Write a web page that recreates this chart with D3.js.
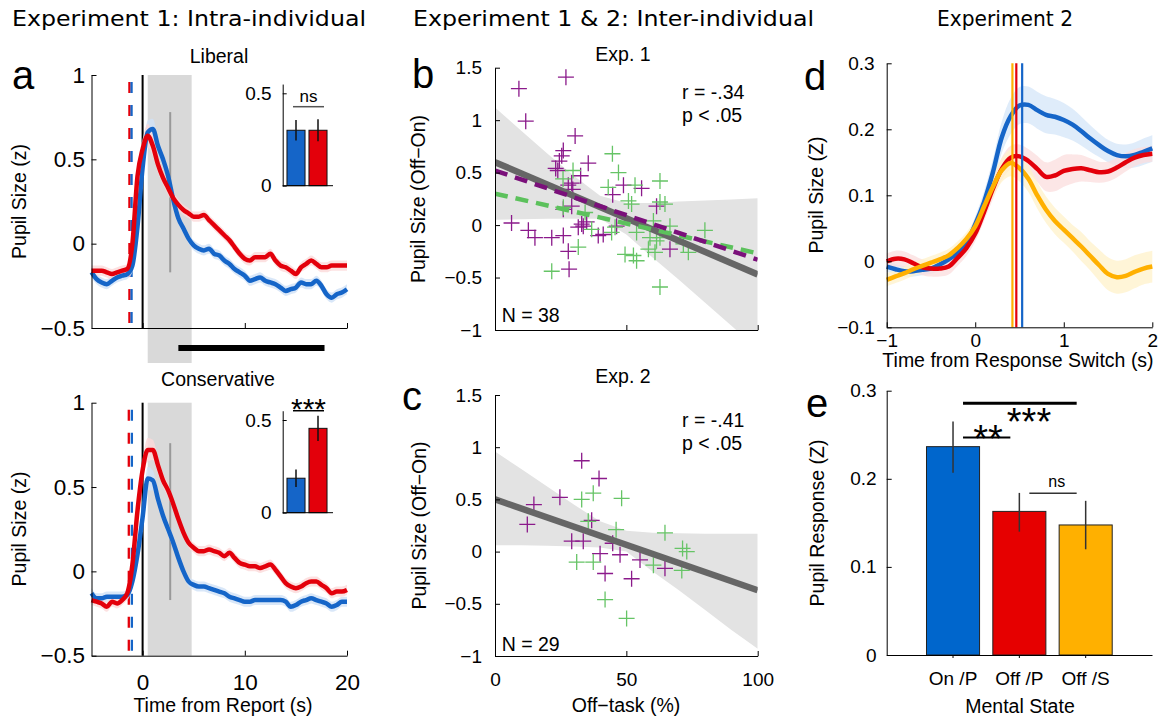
<!DOCTYPE html>
<html><head><meta charset="utf-8">
<script src="https://cdn.jsdelivr.net/npm/d3@7"></script>
<style>
body{margin:0;background:#fff;}
svg{display:block;}
</style></head><body>
<svg id="fig" width="1163" height="717"></svg>
<script>
// ---------------- DATA ----------------
// Panel a: pupil time courses (z) vs time from report (s)
const timeA = [-5,-4.5,-4,-3.5,-3,-2.5,-2,-1.5,-1,-0.5,0,0.5,1,1.5,2,2.5,3,3.5,4,4.5,5,5.5,6,6.5,7,7.5,8,8.5,9,9.5,10,10.5,11,11.5,12,12.5,13,13.5,14,14.5,15,15.5,16,16.5,17,17.5,18,18.5,19,19.5,20];
const libBlue = [-0.17,-0.21,-0.23,-0.24,-0.22,-0.20,-0.19,-0.18,-0.13,0.10,
  0.45,0.66,0.68,0.58,0.50,0.40,0.26,0.15,0.09,0.03,
  -0.01,-0.03,-0.04,-0.03,-0.06,-0.07,-0.10,-0.12,-0.15,-0.17,
  -0.19,-0.22,-0.21,-0.20,-0.22,-0.23,-0.24,-0.26,-0.28,-0.27,
  -0.26,-0.23,-0.24,-0.24,-0.22,-0.25,-0.30,-0.32,-0.30,-0.29,-0.27];
const libRed = [-0.16,-0.16,-0.16,-0.17,-0.18,-0.17,-0.16,-0.15,0.00,0.40,
  0.56,0.64,0.58,0.47,0.39,0.33,0.27,0.23,0.20,0.18,
  0.16,0.16,0.17,0.14,0.11,0.08,0.05,0.02,-0.02,-0.06,
  -0.09,-0.10,-0.08,-0.08,-0.08,-0.06,-0.10,-0.13,-0.14,-0.16,
  -0.18,-0.14,-0.12,-0.10,-0.12,-0.14,-0.14,-0.13,-0.13,-0.13,-0.13];
const consBlue = [-0.13,-0.16,-0.16,-0.15,-0.15,-0.15,-0.15,-0.14,-0.06,0.10,
  0.32,0.55,0.54,0.43,0.33,0.25,0.17,0.08,0.00,-0.06,
  -0.08,-0.09,-0.09,-0.10,-0.11,-0.12,-0.13,-0.15,-0.16,-0.17,
  -0.18,-0.18,-0.17,-0.17,-0.17,-0.17,-0.17,-0.17,-0.18,-0.21,
  -0.20,-0.18,-0.17,-0.16,-0.17,-0.18,-0.19,-0.21,-0.20,-0.18,-0.18];
const consRed = [-0.17,-0.18,-0.19,-0.21,-0.18,-0.19,-0.17,-0.13,0.04,0.36,
  0.60,0.72,0.72,0.63,0.54,0.48,0.40,0.31,0.23,0.17,
  0.14,0.12,0.12,0.13,0.12,0.11,0.09,0.11,0.08,0.05,
  0.04,0.03,0.03,0.02,0.03,0.04,0.01,-0.03,-0.07,-0.09,
  -0.10,-0.09,-0.07,-0.06,-0.06,-0.08,-0.10,-0.13,-0.12,-0.12,-0.11];
const semA = [0.03,0.03,0.03,0.03,0.03,0.03,0.03,0.03,0.04,0.05,
  0.06,0.07,0.06,0.05,0.04,0.04,0.035,0.035,0.03,0.03,
  0.03,0.03,0.03,0.03,0.03,0.03,0.03,0.03,0.03,0.03,
  0.03,0.03,0.03,0.03,0.03,0.03,0.03,0.03,0.03,0.03,
  0.03,0.03,0.03,0.03,0.03,0.03,0.03,0.03,0.03,0.03,0.03];
const rtLib = {red: -1.29, blue: -1.08};
const rtCons = {red: -1.35, blue: -1.05};
const windowA = [0.5, 4.8];
const markA = 2.7;
const markRangeLib = [-0.17, 0.78];
const markRangeCons = [-0.17, 0.76];
const sigBarA = [3.5, 17.8];
const insetCats = ["Off", "On"];
const insetLib = [0.30, 0.30];
const insetLibErr = [0.055, 0.06];
const insetCons = [0.186, 0.455];
const insetConsErr = [0.047, 0.068];
const ticksA_y = [-0.5, 0, 0.5, 1];
const ticksA_x = [0, 10, 20];

// Panel b (Exp. 1) scatter: off-task (%) vs pupil size (Off-On)
const b_purpleX = [27.0,9.1,11.7,30.5,26.0,25.4,24.5,35.5,23.1,23.9,32.6,29.2,27.9,29.6,48.9,55.8,44.8,61.5,29.2,26.0,6.3,12.7,15.2,21.6,26.0,31.7,33.0,33.6,34.9,39.3,41.2,46.3,27.9,28.2,66.6];
const b_purpleY = [1.41,1.30,0.99,0.85,0.71,0.66,0.61,0.59,0.54,0.52,0.47,0.40,0.38,0.34,0.38,0.35,0.29,0.18,0.18,0.15,0.02,-0.05,-0.12,-0.12,-0.10,-0.02,0.01,-0.01,0.03,-0.10,-0.09,-0.01,-0.25,-0.42,-0.23];
const b_greenX = [44.7,47.0,62.8,43.1,53.3,50.8,52.0,62.8,64.7,26.0,34.3,45.7,44.4,36.8,53.9,60.3,66.6,79.9,59.0,62.8,61.5,73.6,49.5,52.7,53.9,58.4,60.9,31.7,62.8,21.6,29.7,25.9,71.7];
const b_greenY = [0.68,0.50,0.42,0.36,0.38,0.23,0.20,0.22,0.20,0.17,0.12,-0.02,-0.07,-0.04,-0.07,0.04,-0.01,-0.05,-0.12,-0.12,-0.15,-0.26,-0.28,-0.29,-0.34,-0.23,-0.26,-0.21,-0.59,-0.44,0.52,0.44,-0.18];
const fitX = [0, 100];
const b_fitAll = [0.60, -0.47];
const b_fitPurple = [0.52, -0.33];
const b_fitGreen = [0.30, -0.27];
const ciX = [0,10,20,30,40,50,60,70,80,90,100];
const b_ciHi = [1.12,0.90,0.68,0.47,0.28,0.21,0.21,0.225,0.235,0.245,0.255];
const b_ciLo = [0.05,0.055,0.06,0.06,0.06,-0.09,-0.31,-0.52,-0.74,-0.96,-1.18];

// Panel c (Exp. 2)
const c_purpleX = [33.0,39.6,24.7,14.8,12.3,36.8,29.2,33.6,40.0,47.6,55.2,64.7,41.9,52.0,44.8];
const c_purpleY = [0.87,0.70,0.52,0.45,0.26,0.30,0.10,0.10,-0.02,-0.03,-0.08,-0.16,-0.21,-0.26,0.08];
const c_greenX = [33.0,37.4,48.2,35.5,46.1,64.7,71.4,73.0,31.1,37.4,60.3,71.1,41.9,50.1];
const c_greenY = [0.50,0.56,0.51,0.29,0.21,0.18,0.03,0.00,-0.10,-0.10,-0.13,-0.18,-0.46,-0.64];
const c_fitAll = [0.50, -0.37];
const c_ciHi = [0.96,0.79,0.62,0.45,0.29,0.20,0.18,0.175,0.17,0.17,0.17];
const c_ciLo = [0.06,0.06,0.055,0.05,0.04,0.0,-0.19,-0.37,-0.56,-0.75,-0.93];
const ticksBC_y = [-1,-0.5,0,0.5,1,1.5];
const ticksBC_x = [0,50,100];

// Panel d: pupil (Z) vs time from response switch (s)
const timeD = [-1,-0.9,-0.8,-0.7,-0.6,-0.5,-0.4,-0.3,-0.2,-0.1,0,0.1,0.2,0.3,0.4,0.5,0.6,0.7,0.8,0.9,1,1.1,1.2,1.3,1.4,1.5,1.6,1.7,1.8,1.9,2];
const dOnP = [-0.008,-0.012,-0.015,-0.015,-0.013,-0.011,-0.005,0.003,0.013,0.028,
  0.056,0.09,0.135,0.188,0.22,0.236,0.237,0.229,0.222,0.219,
  0.214,0.207,0.197,0.186,0.176,0.167,0.161,0.159,0.161,0.166,0.171];
const dOffP = [0.0,0.004,0.003,-0.003,-0.009,-0.011,-0.011,-0.008,0.005,0.02,
  0.042,0.075,0.11,0.14,0.157,0.159,0.152,0.14,0.128,0.13,
  0.137,0.14,0.141,0.138,0.135,0.136,0.142,0.15,0.157,0.161,0.163];
const dOffS = [-0.028,-0.023,-0.018,-0.012,-0.007,-0.002,0.003,0.009,0.02,0.034,
  0.053,0.083,0.113,0.138,0.149,0.141,0.125,0.1,0.078,0.061,
  0.048,0.035,0.022,0.008,-0.006,-0.019,-0.024,-0.022,-0.016,-0.011,-0.008];
const seOnP = [0.008,0.008,0.008,0.008,0.008,0.008,0.008,0.008,0.008,0.009,
  0.012,0.016,0.02,0.024,0.027,0.028,0.028,0.028,0.028,0.027,
  0.026,0.024,0.022,0.02,0.018,0.017,0.017,0.018,0.019,0.02,0.02];
const seOffP = [0.012,0.012,0.012,0.012,0.012,0.012,0.012,0.012,0.012,0.012,
  0.012,0.014,0.016,0.017,0.018,0.018,0.018,0.02,0.022,0.024,
  0.024,0.022,0.02,0.018,0.016,0.015,0.015,0.014,0.013,0.012,0.012];
const seOffS = [0.01,0.01,0.01,0.01,0.01,0.01,0.01,0.01,0.01,0.01,
  0.012,0.014,0.016,0.018,0.02,0.02,0.02,0.02,0.02,0.02,
  0.02,0.02,0.022,0.022,0.024,0.025,0.025,0.025,0.025,0.024,0.024];
const peakD = {OffS: 0.42, OffP: 0.464, OnP: 0.53};
const ticksD_y = [-0.1,0,0.1,0.2,0.3];
const ticksD_x = [-1,0,1,2];

// Panel e: pupil response per mental state
const stateCats = ["On /P", "Off /P", "Off /S"];
const stateVals = [0.2365, 0.163, 0.1476];
const stateErrLo = [0.207, 0.140, 0.120];
const stateErrHi = [0.265, 0.184, 0.175];
const ticksE_y = [0, 0.1, 0.2, 0.3];
const sigE = [
  {a: 0, b: 2, y: 0.2857, label: "***"},
  {a: 0, b: 1, y: 0.247, label: "**"},
  {a: 1, b: 2, y: 0.1835, label: "ns"}
];

// ---------------- STYLE ----------------
const FONT = '"Liberation Sans", Arial, Helvetica, sans-serif';
const TICK = 19, TICK_A = 22.5, LAB = 19.5;
const BLUE = "#1565c8", RED = "#e3000b", YEL = "#ffb000";
const BLUE_E = "#0066cc", RED_E = "#e60000", YEL_E = "#ffb000";
const PURPLE = "#8b1a8b", GREEN = "#66c466";

const svg = d3.select("#fig");
svg.append("rect").attr("width",1163).attr("height",717).attr("fill","#fff");

const fmt = d3.format("~g");
function styleAxis(g, fs){
  g.attr("font-family", FONT).attr("font-size", fs);
  g.selectAll(".domain").attr("stroke","#000").attr("stroke-width",1);
  g.selectAll(".tick line").attr("stroke","#000").attr("stroke-width",1);
  g.selectAll(".tick text").attr("fill","#000");
}
function txt(x, y, s, opt={}){
  const t = svg.append("text").attr("x",x).attr("y",y).text(s)
    .attr("font-family", opt.family || FONT).attr("font-size", opt.size || LAB)
    .attr("text-anchor", opt.anchor || "middle").attr("fill", opt.fill || "#000");
  if (opt.len) t.attr("textLength", opt.len).attr("lengthAdjust","spacingAndGlyphs");
  return t;
}
function vtxt(x, y, s, size){
  return svg.append("text").attr("transform",`translate(${x},${y}) rotate(-90)`)
    .attr("text-anchor","middle").attr("font-family",FONT).attr("font-size",size||LAB).text(s);
}

// ---------------- TITLES ----------------
txt(12, 26, "Experiment 1: Intra-individual", {family:'"DejaVu Sans", sans-serif', size:21, anchor:"start", len:354});
txt(413, 26, "Experiment 1 & 2: Inter-individual", {family:'"DejaVu Sans", sans-serif', size:21, anchor:"start", len:401});
txt(937, 26, "Experiment 2", {family:'"DejaVu Sans", sans-serif', size:21, anchor:"start", len:136});

// ---------------- PANEL A ----------------
const xA = d3.scaleLinear().domain([-5,20]).range([91.5,347]);
function drawA(y, blue, red, rt, markRange, grayTop, grayBot, xLabels){
  const g = svg.append("g");
  g.append("rect").attr("x", xA(windowA[0])).attr("width", xA(windowA[1]) - xA(windowA[0]))
    .attr("y", grayTop).attr("height", grayBot - grayTop).attr("fill", "#d9d9d9");
  [["red", RED], ["blue", BLUE]].forEach(([k, col]) => {
    g.append("line").attr("x1", xA(rt[k])).attr("x2", xA(rt[k]))
      .attr("y1", y(1) + 7).attr("y2", y(-0.5)).attr("stroke", col).attr("stroke-width", 2.3)
      .attr("stroke-dasharray", "11,12");
  });
  g.append("line").attr("x1", xA(0)).attr("x2", xA(0)).attr("y1", y(1)).attr("y2", y(-0.5))
    .attr("stroke", "#000").attr("stroke-width", 2);
  g.append("line").attr("x1", xA(markA)).attr("x2", xA(markA)).attr("y1", y(markRange[1])).attr("y2", y(markRange[0]))
    .attr("stroke", "#999").attr("stroke-width", 2);
  const area = (vals) => d3.area().curve(d3.curveMonotoneX).x((d,i)=>xA(timeA[i]))
    .y0((d,i)=>y(vals[i]-semA[i])).y1((d,i)=>y(vals[i]+semA[i]))(vals);
  const line = (vals) => d3.line().curve(d3.curveMonotoneX).x((d,i)=>xA(timeA[i])).y(d=>y(d))(vals);
  g.append("path").attr("d", area(blue)).attr("fill", "#cfe1f6").attr("opacity", 0.8);
  g.append("path").attr("d", area(red)).attr("fill", "#fbdada").attr("opacity", 0.8);
  g.append("path").attr("d", line(blue)).attr("fill","none").attr("stroke", BLUE).attr("stroke-width", 4.5).attr("stroke-linejoin","round");
  g.append("path").attr("d", line(red)).attr("fill","none").attr("stroke", RED).attr("stroke-width", 4.5).attr("stroke-linejoin","round");
  const ay = svg.append("g").attr("transform", `translate(${xA(-5)},0)`)
    .call(d3.axisLeft(y).tickValues(ticksA_y).tickFormat(fmt).tickSizeInner(-5).tickSizeOuter(0).tickPadding(6.5));
  styleAxis(ay, TICK_A);
  const ax = svg.append("g").attr("transform", `translate(0,${y(-0.5)})`)
    .call(d3.axisBottom(xA).tickValues(ticksA_x).tickFormat(xLabels ? fmt : () => "").tickSizeInner(-5).tickSizeOuter(0).tickPadding(18));
  styleAxis(ax, TICK_A);
}
const yAt = d3.scaleLinear().domain([-0.5,1]).range([328,75]);
const yAb = d3.scaleLinear().domain([-0.5,1]).range([655.7,402.7]);
drawA(yAt, libBlue, libRed, rtLib, markRangeLib, 75, 363, false);
drawA(yAb, consBlue, consRed, rtCons, markRangeCons, 402.7, 655.7, true);
svg.append("rect").attr("x", xA(sigBarA[0])).attr("width", xA(sigBarA[1]) - xA(sigBarA[0]))
  .attr("y", 345).attr("height", 6).attr("fill", "#000");

txt(219, 63, "Liberal");
txt(218, 386, "Conservative");
vtxt(26, 201.5, "Pupil Size (z)");
vtxt(26, 529, "Pupil Size (z)");
txt(223, 712, "Time from Report (s)");
txt(12, 89, "a", {size:40, anchor:"start"});

// insets
const xI = d3.scaleBand().domain(insetCats).range([285,329]).paddingInner(0.18).paddingOuter(0.09);
function drawInset(yI, vals, errs, sigY, sigLabel, sigCol, sigSize, sigBase){
  const g = svg.append("g");
  g.selectAll("rect.b").data(vals).enter().append("rect")
    .attr("x", (d,i)=>xI(insetCats[i])).attr("width", xI.bandwidth())
    .attr("y", d=>yI(d)).attr("height", d=>yI(0)-yI(d))
    .attr("fill", (d,i)=> i===0 ? BLUE : RED).attr("stroke","#111").attr("stroke-width",1);
  g.selectAll("line.e").data(vals).enter().append("line")
    .attr("x1",(d,i)=>xI(insetCats[i])+xI.bandwidth()/2).attr("x2",(d,i)=>xI(insetCats[i])+xI.bandwidth()/2)
    .attr("y1",(d,i)=>yI(d-errs[i])).attr("y2",(d,i)=>yI(d+errs[i])).attr("stroke","#111").attr("stroke-width",1.5);
  g.append("line").attr("x1",282.7).attr("x2",333).attr("y1",yI(0)).attr("y2",yI(0)).attr("stroke","#000");
  const ay = svg.append("g").attr("transform","translate(282.7,0)")
    .call(d3.axisLeft(yI).tickValues([0,0.5]).tickFormat(fmt).tickSizeInner(-4).tickSizeOuter(0).tickPadding(11));
  styleAxis(ay, TICK);
  const c0 = xI(insetCats[0]) + xI.bandwidth()/2, c1 = xI(insetCats[1]) + xI.bandwidth()/2;
  g.append("line").attr("x1", c0-3).attr("x2", c1+6).attr("y1", yI(sigY)).attr("y2", yI(sigY))
    .attr("stroke", sigCol).attr("stroke-width", 1.5);
  txt((c0+c1)/2 + 1.5, sigBase, sigLabel, {size: sigSize});
}
const yIt = d3.scaleLinear().domain([0,0.55]).range([185.7, 185.7-0.55*184.8]);
const yIb = d3.scaleLinear().domain([0,0.55]).range([512.7, 512.7-0.55*185.4]);
drawInset(yIt, insetLib, insetLibErr, 0.4275, "ns", "#555", 17, 101.7);
drawInset(yIb, insetCons, insetConsErr, 0.55, "***", "#000", 30, 419);

// ---------------- PANELS B, C ----------------
const xB = d3.scaleLinear().domain([0,100]).range([495,757.7]);
let clipN = 0;
function drawScatter(y, pX, pY, gX, gY, ciLo, ciHi, fits, xLabels){
  const id = "clip" + (clipN++);
  svg.append("clipPath").attr("id", id).append("rect")
    .attr("x", xB(0)).attr("y", y(1.5)).attr("width", xB(100)-xB(0)).attr("height", y(-1)-y(1.5));
  const g = svg.append("g").attr("clip-path", `url(#${id})`);
  g.append("path").attr("d", d3.area().x((d,i)=>xB(ciX[i])).y0((d,i)=>y(ciLo[i])).y1((d,i)=>y(ciHi[i]))(ciX))
    .attr("fill", "#e3e3e3");
  const cross = "M-8,0H8M0,-8V8";
  const gp = svg.append("g");
  pX.forEach((x,i)=> gp.append("path").attr("d", cross).attr("transform",`translate(${xB(x)},${y(pY[i])})`)
    .attr("stroke", PURPLE).attr("stroke-width", 1.3).attr("fill","none"));
  gX.forEach((x,i)=> gp.append("path").attr("d", cross).attr("transform",`translate(${xB(x)},${y(gY[i])})`)
    .attr("stroke", GREEN).attr("stroke-width", 1.3).attr("fill","none"));
  const g2 = svg.append("g").attr("clip-path", `url(#${id})`);
  fits.forEach(f => {
    const l = g2.append("line").attr("x1", xB(fitX[0])).attr("x2", xB(fitX[1]))
      .attr("y1", y(f.v[0])).attr("y2", y(f.v[1])).attr("stroke", f.col).attr("stroke-width", f.w);
    if (f.dash) l.attr("stroke-dasharray", f.dash);
  });
  const ay = svg.append("g").attr("transform", `translate(${xB(0)},0)`)
    .call(d3.axisLeft(y).tickValues(ticksBC_y).tickFormat(fmt).tickSizeInner(-5).tickSizeOuter(0).tickPadding(13));
  styleAxis(ay, TICK);
  const ax = svg.append("g").attr("transform", `translate(0,${y(-1)})`)
    .call(d3.axisBottom(xB).tickValues(ticksBC_x).tickFormat(xLabels ? fmt : () => "").tickSizeInner(-5).tickSizeOuter(0).tickPadding(17));
  styleAxis(ax, TICK);
}
const yB = d3.scaleLinear().domain([-1,1.5]).range([330,67.7]);
const yC = d3.scaleLinear().domain([-1,1.5]).range([656,395]);
drawScatter(yB, b_purpleX, b_purpleY, b_greenX, b_greenY, b_ciLo, b_ciHi, [
  {v: b_fitAll, col: "#666", w: 6.5},
  {v: b_fitGreen, col: "#5cc15c", w: 4.5, dash: "13,8"},
  {v: b_fitPurple, col: "#7a107a", w: 4.5, dash: "13,8"}
], false);
drawScatter(yC, c_purpleX, c_purpleY, c_greenX, c_greenY, c_ciLo, c_ciHi, [
  {v: c_fitAll, col: "#666", w: 6.5}
], true);
txt(623, 61, "Exp. 1");
txt(623, 383, "Exp. 2");
txt(682, 99.3, "r = -.34", {anchor:"start"});
txt(682, 122, "p < .05", {anchor:"start"});
txt(682, 426.7, "r = -.41", {anchor:"start"});
txt(682, 450, "p < .05", {anchor:"start"});
txt(501.7, 321.7, "N = 38", {anchor:"start"});
txt(501.7, 650.7, "N = 29", {anchor:"start"});
vtxt(425, 199, "Pupil Size (Off\u2212On)");
vtxt(426, 525.5, "Pupil Size (Off\u2212On)");
txt(626, 712, "Off\u2212task (%)");
txt(412, 88, "b", {size:40, anchor:"start"});
txt(402, 410, "c", {size:40, anchor:"start"});

// ---------------- PANEL D ----------------
const xD = d3.scaleLinear().domain([-1,2]).range([886.7,1152.3]);
const yD = d3.scaleLinear().domain([-0.1,0.3]).range([327.3,63.3]);
{
  const g = svg.append("g");
  const series = [
    {v: dOnP, se: seOnP, col: BLUE, band: "#d4e5f8"},
    {v: dOffP, se: seOffP, col: RED, band: "#fbdede"},
    {v: dOffS, se: seOffS, col: YEL, band: "#fff1c9"}
  ];
  series.forEach(s => {
    g.append("path").attr("d", d3.area().curve(d3.curveCatmullRom).x((d,i)=>xD(timeD[i]))
      .y0((d,i)=>yD(s.v[i]-s.se[i])).y1((d,i)=>yD(s.v[i]+s.se[i]))(s.v))
      .attr("fill", s.band).attr("opacity", 0.75);
  });
  series.forEach(s => {
    g.append("path").attr("d", d3.line().curve(d3.curveCatmullRom).x((d,i)=>xD(timeD[i])).y(d=>yD(d))(s.v))
      .attr("fill","none").attr("stroke", s.col).attr("stroke-width", 4.5).attr("stroke-linejoin","round");
  });
  [[peakD.OffS, YEL],[peakD.OffP, RED],[peakD.OnP, BLUE]].forEach(([t,c]) => {
    g.append("line").attr("x1", xD(t)).attr("x2", xD(t)).attr("y1", yD(0.3)).attr("y2", yD(-0.1))
      .attr("stroke", c).attr("stroke-width", 2.2);
  });
  const ay = svg.append("g").attr("transform", `translate(${xD(-1)},0)`)
    .call(d3.axisLeft(yD).tickValues(ticksD_y).tickFormat(fmt).tickSizeInner(-5).tickSizeOuter(0).tickPadding(12));
  styleAxis(ay, TICK);
  const ax = svg.append("g").attr("transform", `translate(0,${yD(-0.1)})`)
    .call(d3.axisBottom(xD).tickValues(ticksD_x).tickFormat(fmt).tickSizeInner(-5).tickSizeOuter(0).tickPadding(6));
  styleAxis(ax, TICK);
}
txt(1018, 366.7, "Time from Response Switch (s)");
vtxt(823, 195, "Pupil Size (Z)");
txt(804, 90, "d", {size:40, anchor:"start"});

// ---------------- PANEL E ----------------
const xE = d3.scaleBand().domain(stateCats).range([886.7,1152]).paddingInner(0.2).paddingOuter(0.6);
const yE = d3.scaleLinear().domain([0,0.3]).range([655,390.7]);
{
  const g = svg.append("g");
  const cols = [BLUE_E, RED_E, YEL_E];
  g.selectAll("rect.bar").data(stateVals).enter().append("rect")
    .attr("x",(d,i)=>xE(stateCats[i])).attr("width", xE.bandwidth())
    .attr("y", d=>yE(d)).attr("height", d=>yE(0)-yE(d))
    .attr("fill",(d,i)=>cols[i]).attr("stroke","#222").attr("stroke-width",1);
  g.selectAll("line.err").data(stateVals).enter().append("line")
    .attr("x1",(d,i)=>xE(stateCats[i])+xE.bandwidth()/2).attr("x2",(d,i)=>xE(stateCats[i])+xE.bandwidth()/2)
    .attr("y1",(d,i)=>yE(stateErrLo[i])).attr("y2",(d,i)=>yE(stateErrHi[i]))
    .attr("stroke","#333").attr("stroke-width",1.5);
  const ay = svg.append("g").attr("transform", `translate(886.7,0)`)
    .call(d3.axisLeft(yE).tickValues(ticksE_y).tickFormat(fmt).tickSizeInner(-5).tickSizeOuter(0).tickPadding(10));
  styleAxis(ay, TICK);
  const ax = svg.append("g").attr("transform", `translate(0,${yE(0)})`)
    .call(d3.axisBottom(xE).tickSizeInner(3).tickSizeOuter(0).tickPadding(14));
  styleAxis(ax, TICK);
  sigE.forEach(s => {
    const c0 = xE(stateCats[s.a]) + xE.bandwidth()/2 + 10;
    const c1 = xE(stateCats[s.b]) + xE.bandwidth()/2 - 9;
    const w = s.label === "***" ? 3 : (s.label === "**" ? 2 : 1.5);
    g.append("line").attr("x1", c0).attr("x2", c1).attr("y1", yE(s.y)).attr("y2", yE(s.y))
      .attr("stroke", s.label === "ns" ? "#333" : "#000").attr("stroke-width", w);
  });
}
txt(1029, 435, "***", {size:38});
txt(988, 451.6, "**", {size:38});
txt(1056.7, 486.7, "ns", {size:16});
txt(1020, 713.3, "Mental State");
vtxt(824, 523, "Pupil Response (Z)");
txt(806, 417, "e", {size:40, anchor:"start"});
</script>
</body></html>
